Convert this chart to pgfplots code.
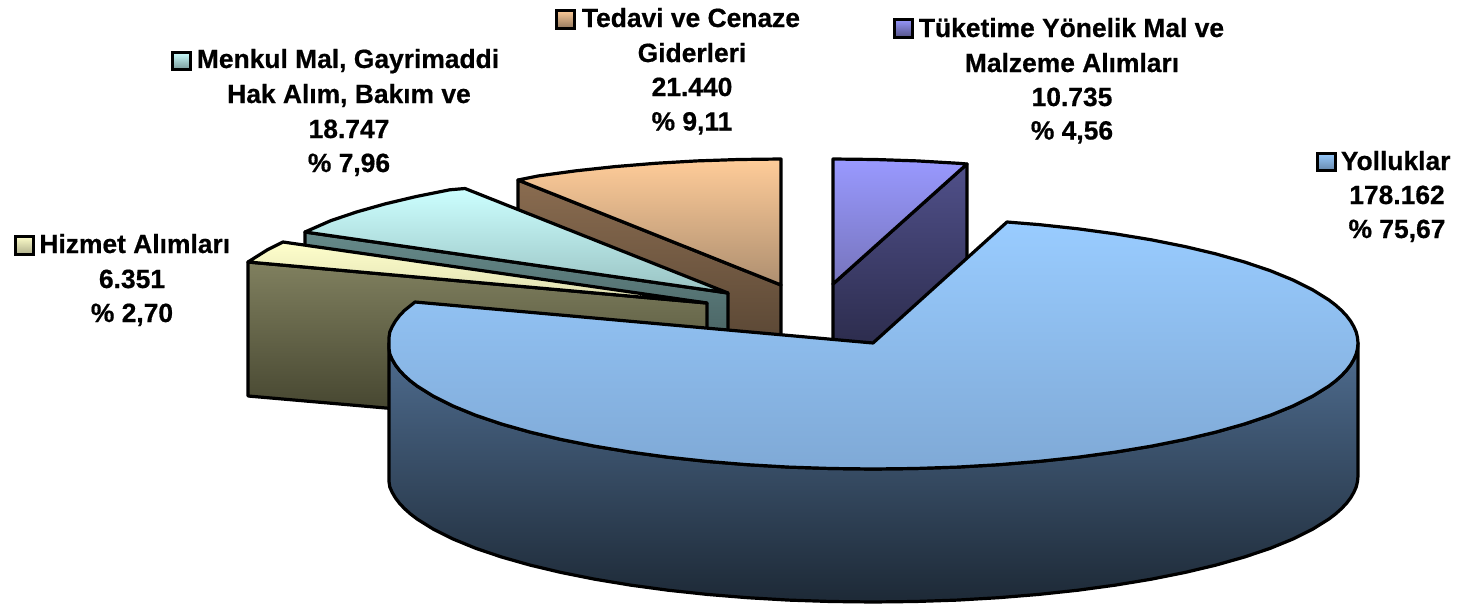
\documentclass[border=0pt]{standalone}
\usepackage{pgfplots}
\pgfplotsset{compat=1.18}
\usepackage{fontspec}
\setmainfont[BoldFeatures={FakeBold=0.6}]{Liberation Sans}

\definecolor{blueT}{HTML}{99CCFF}\definecolor{blueB}{HTML}{7FA9D6}
\definecolor{sideT}{HTML}{4F6D90}\definecolor{sideB}{HTML}{1D2936}
\definecolor{orT}{HTML}{FFCC99}\definecolor{orB}{HTML}{AE8F70}
\definecolor{orWT}{HTML}{8A6C50}\definecolor{orWB}{HTML}{443628}
\definecolor{puT}{HTML}{9999FF}\definecolor{puB}{HTML}{7674BC}
\definecolor{puWT}{HTML}{50508A}\definecolor{puWB}{HTML}{1E1E35}
\definecolor{teT}{HTML}{CCFFFF}\definecolor{teB}{HTML}{99C2C2}
\definecolor{teWT}{HTML}{668A8A}\definecolor{teWB}{HTML}{334545}
\definecolor{crT}{HTML}{FFFFCC}\definecolor{crB}{HTML}{DDDDB0}
\definecolor{olWT}{HTML}{80805F}\definecolor{olWB}{HTML}{3C3C28}

\newcommand{\lab}[3]{\node[anchor=base,inner sep=0pt,font=\fontsize{13.2}{15}\selectfont\bfseries] at (axis cs:#1,#2) {#3};}
\newcommand{\labw}[3]{\node[anchor=base west,inner sep=0pt,font=\fontsize{13.2}{15}\selectfont\bfseries] at (axis cs:#1,#2) {#3};}

\begin{document}
\begin{tikzpicture}
\useasboundingbox (0,0) rectangle (729pt,302.5pt);
\begin{axis}[
    at={(0,0)}, anchor=south west,
    width=729pt, height=302.5pt, scale only axis,
    xmin=0, xmax=1458, ymin=0, ymax=605,
    y dir=reverse, hide axis, clip=false,
    every axis plot/.append style={draw=black, line width=1.6pt, line join=round, mark=none},
    key/.style={line join=miter, line width=1.5pt},
  ]
  % Tedavi ve Cenaze slice
  \addplot[bottom color=orWB, top color=orWT] coordinates {(518,180) (781,285) (781,419) (518,314)} -- cycle;
  \addplot[bottom color=orB, top color=orT] coordinates {(518,180) (538.5,175.9) (576,170.8) (615.1,166.6) (655.5,163.3) (696.8,160.9) (738.7,159.5) (781,159) (781,285)} -- cycle;
  % Tuketime slice
  \addplot[bottom color=puWB, top color=puWT] coordinates {(967,164) (833,284) (833,418) (967,298)} -- cycle;
  \addplot[bottom color=puB, top color=puT] coordinates {(833,159) (875.3,159.5) (917.2,160.9) (958.5,163.3) (967,164) (833,284)} -- cycle;
  % Menkul Mal slice
  \addplot[bottom color=teWB, top color=teWT] coordinates {(305,232) (728,293) (728,427) (305,366)} -- cycle;
  \addplot[bottom color=teB, top color=teT] coordinates {(305,232) (330.7,220.7) (356.5,212) (385.1,203.9) (416.2,196.5) (449.8,189.8) (465,188.5) (728,293)} -- cycle;
  % Hizmet slice
  \addplot[bottom color=olWB, top color=olWT] coordinates {(248,262) (707,303) (707,436) (248,396)} -- cycle;
  \addplot[bottom color=crB, top color=crT] coordinates {(248,262) (267.4,249.8) (283,242) (707,303)} -- cycle;
  % Yolluklar rim
  \addplot[bottom color=sideB, top color=sideT] coordinates {
    (389,343) (389,348.5) (389.8,354) (392.2,359.4) (395.4,364.9) (399.5,370.3) (404.5,375.6) (410.4,380.9) (417.2,386.1) (433.4,396.2) (453,406) (475.7,415.3)
    (501.5,424) (530.1,432.1) (561.2,439.5) (594.8,446.2) (630.5,452.1) (668,457.2) (707.1,461.4) (747.5,464.7)
    (788.8,467.1) (830.7,468.5) (873,469) (915.3,468.5) (957.2,467.1) (998.5,464.7) (1038.9,461.4) (1078,457.2)
    (1115.5,452.1) (1151.2,446.2) (1184.8,439.5) (1215.9,432.1) (1244.5,424) (1270.3,415.3) (1293,406) (1312.6,396.2)
    (1328.8,386.1) (1335.6,380.9) (1341.5,375.6) (1346.5,370.3) (1350.6,364.9) (1353.8,359.4) (1356.2,354) (1357.5,348.5) (1358,343)
    (1358,476) (1357.5,481.5) (1356.2,487) (1353.8,492.4) (1350.6,497.9) (1346.5,503.3) (1341.5,508.6) (1335.6,513.9) (1328.8,519.1) (1312.6,529.2) (1293,539) (1270.3,548.3)
    (1244.5,557) (1215.9,565.1) (1184.8,572.5) (1151.2,579.2) (1115.5,585.1) (1078,590.2) (1038.9,594.4) (998.5,597.7)
    (957.2,600.1) (915.3,601.5) (873,602) (830.7,601.5) (788.8,600.1) (747.5,597.7) (707.1,594.4) (668,590.2)
    (630.5,585.1) (594.8,579.2) (561.2,572.5) (530.1,565.1) (501.5,557) (475.7,548.3) (453,539) (433.4,529.2)
    (417.2,519.1) (410.4,513.9) (404.5,508.6) (399.5,503.3) (395.4,497.9) (392.2,492.4) (389.8,487) (389,481.5) (389,476)} -- cycle;
  % Yolluklar top
  \addplot[bottom color=blueB, top color=blueT] coordinates {
    (1007,222) (1038.9,224.6) (1078,228.8) (1115.5,233.9) (1151.2,239.8) (1184.8,246.5) (1215.9,253.9) (1244.5,262)
    (1270.3,270.7) (1293,280) (1312.6,289.8) (1328.8,299.9) (1335.6,305.1) (1341.5,310.4) (1346.5,315.7) (1350.6,321.1) (1353.8,326.6) (1356.2,332) (1357.5,337.5) (1358,343)
    (1357.5,348.5) (1356.2,354) (1353.8,359.4) (1350.6,364.9) (1346.5,370.3) (1341.5,375.6) (1335.6,380.9) (1328.8,386.1) (1312.6,396.2) (1293,406) (1270.3,415.3) (1244.5,424)
    (1215.9,432.1) (1184.8,439.5) (1151.2,446.2) (1115.5,452.1) (1078,457.2) (1038.9,461.4) (998.5,464.7) (957.2,467.1)
    (915.3,468.5) (873,469) (830.7,468.5) (788.8,467.1) (747.5,464.7) (707.1,461.4) (668,457.2) (630.5,452.1)
    (594.8,446.2) (561.2,439.5) (530.1,432.1) (501.5,424) (475.7,415.3) (453,406) (433.4,396.2) (417.2,386.1)
    (410.4,380.9) (404.5,375.6) (399.5,370.3) (395.4,364.9) (392.2,359.4) (389.8,354) (389,348.5) (389,343) (389,337.5) (389.8,332) (392.2,326.6) (395.4,321.1) (399.5,315.7) (404.5,310.4) (415,302) (873,343)} -- cycle;
  % legend keys
  \addplot[key, bottom color=crB!80!black, top color=crT] coordinates {(15,236) (33,236) (33,254) (15,254)} -- cycle;
  \addplot[key, bottom color=teB!80!black, top color=teT] coordinates {(172,52) (190,52) (190,69) (172,69)} -- cycle;
  \addplot[key, bottom color=orB!85!black, top color=orT] coordinates {(556,10) (574.5,10) (574.5,28) (556,28)} -- cycle;
  \addplot[key, bottom color=puB!70!black, top color=puT] coordinates {(894,19) (912,19) (912,37.5) (894,37.5)} -- cycle;
  \addplot[key, bottom color=blueB!80!black, top color=blueT] coordinates {(1317,153) (1335,153) (1335,170.5) (1317,170.5)} -- cycle;
  % labels
  \labw{39}{253}{Hizmet Alımları}
  \lab{132}{288}{6.351}
  \lab{132}{322}{\% 2,70}
  \labw{196.5}{68}{Menkul Mal, Gayrimaddi}
  \lab{349}{103}{Hak Alım, Bakım ve}
  \lab{349}{138}{18.747}
  \lab{349}{172}{\% 7,96}
  \labw{581.5}{27}{Tedavi ve Cenaze}
  \lab{692}{62}{Giderleri}
  \lab{692}{96}{21.440}
  \lab{692}{130.5}{\% 9,11}
  \labw{918.5}{37}{Tüketime Yönelik Mal ve}
  \lab{1072}{72}{Malzeme Alımları}
  \lab{1072}{106}{10.735}
  \lab{1072}{139.5}{\% 4,56}
  \labw{1340.5}{170}{Yolluklar}
  \lab{1397}{204}{178.162}
  \lab{1397}{238}{\% 75,67}
\end{axis}
\end{tikzpicture}
\end{document}
